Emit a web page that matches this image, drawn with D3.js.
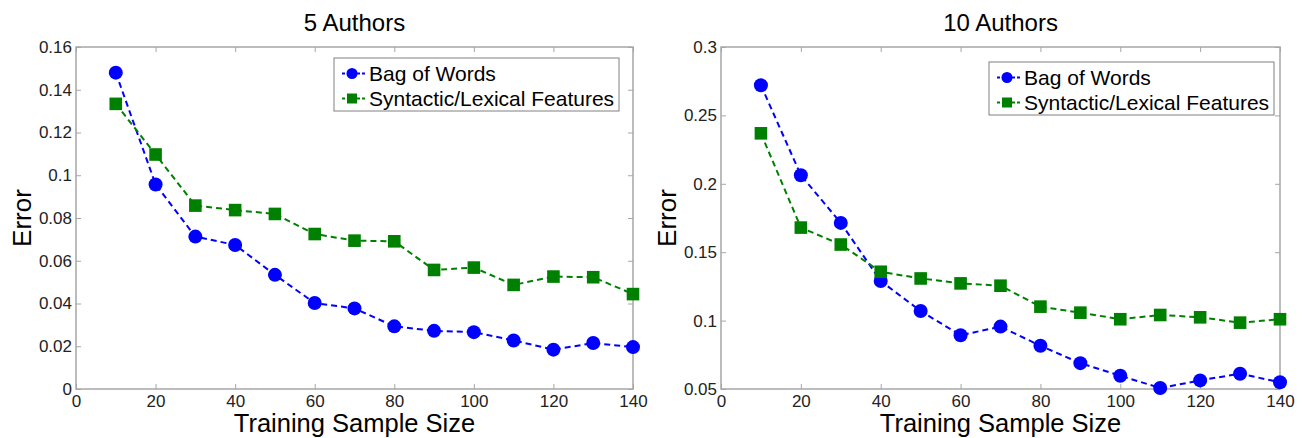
<!DOCTYPE html>
<html>
<head>
  <meta charset="utf-8">
  <script src="https://d3js.org/d3.v7.min.js"></script>
  <style>
    body { margin: 0; background: #fff; }
    svg { display: block; font-family: Arial, "Liberation Sans", sans-serif; }
    .frame { fill: none; stroke: #a6a6a6; stroke-width: 1.5px; }
    .tick line { stroke: #a6a6a6; stroke-width: 1px; }
    .tick text { fill: #222; font-size: 17px; }
    .domain { display: none; }
    .series { fill: none; stroke-width: 2px; stroke-dasharray: 6,4; }
  </style>
</head>
<body>
  <svg id="chart" width="1302" height="438"></svg>
  <script>
    const sizes = [10, 20, 30, 40, 50, 60, 70, 80, 90, 100, 110, 120, 130, 140];
    const seriesNames = ["Bag of Words", "Syntactic/Lexical Features"];

    // 5 authors
    const bow5 = [0.148, 0.0957, 0.0713, 0.0674, 0.0534, 0.0402, 0.0377, 0.0293, 0.0272, 0.0266, 0.0227, 0.0184, 0.0215, 0.0196];
    const syn5 = [0.1334, 0.1097, 0.0858, 0.0837, 0.0819, 0.0725, 0.0694, 0.0691, 0.0557, 0.0568, 0.0487, 0.0526, 0.0523, 0.0444];

    // 10 authors
    const bow10 = [0.272, 0.2063, 0.1714, 0.1289, 0.107, 0.0893, 0.0956, 0.0816, 0.0689, 0.0597, 0.0507, 0.0563, 0.0612, 0.0549];
    const syn10 = [0.2369, 0.168, 0.1556, 0.1357, 0.1308, 0.1272, 0.1255, 0.1102, 0.1058, 0.101, 0.1041, 0.1024, 0.0985, 0.101];

    const xTicks = [0, 20, 40, 60, 80, 100, 120, 140];
    const yTicks5 = [0, 0.02, 0.04, 0.06, 0.08, 0.1, 0.12, 0.14, 0.16];
    const yTicks10 = [0.05, 0.1, 0.15, 0.2, 0.25, 0.3];

    const colors = ["#0000ff", "#008000"];

    const svg = d3.select("#chart");

    const panels = [
      { title: "5 Authors", left: 76, right: 633, yDomain: [0, 0.16], yTicks: yTicks5, data: [bow5, syn5], legend: [334, 58] },
      { title: "10 Authors", left: 721, right: 1280, yDomain: [0.05, 0.3], yTicks: yTicks10, data: [bow10, syn10], legend: [989, 62] }
    ];
    const plotTop = 47, plotBottom = 389;
    const fmt = d => String(+d.toFixed(2));

    panels.forEach(p => {
      const x = d3.scaleLinear().domain([0, 140]).range([p.left, p.right]);
      const y = d3.scaleLinear().domain(p.yDomain).range([plotBottom, plotTop]);
      const g = svg.append("g");

      g.append("g").attr("transform", `translate(0,${plotBottom})`)
        .call(d3.axisBottom(x).tickValues(xTicks).tickSize(-5).tickPadding(6).tickFormat(d3.format("d")));
      g.append("g").attr("transform", `translate(0,${plotTop})`)
        .call(d3.axisTop(x).tickValues(xTicks).tickSize(-5).tickFormat(""));
      g.append("g").attr("transform", `translate(${p.left},0)`)
        .call(d3.axisLeft(y).tickValues(p.yTicks).tickSize(-5).tickPadding(4).tickFormat(fmt));
      g.append("g").attr("transform", `translate(${p.right},0)`)
        .call(d3.axisRight(y).tickValues(p.yTicks).tickSize(-5).tickFormat(""));

      g.append("rect").attr("class", "frame")
        .attr("x", p.left).attr("y", plotTop)
        .attr("width", p.right - p.left).attr("height", plotBottom - plotTop);

      const line = d3.line().x((d, i) => x(sizes[i])).y(d => y(d));

      p.data.forEach((vals, k) => {
        g.append("path").attr("class", "series")
          .attr("stroke", colors[k]).attr("d", line(vals));
        if (k === 0) {
          g.selectAll(null).data(vals).join("circle")
            .attr("cx", (d, i) => x(sizes[i])).attr("cy", d => y(d))
            .attr("r", 7).attr("fill", colors[k]);
        } else {
          g.selectAll(null).data(vals).join("rect")
            .attr("x", (d, i) => x(sizes[i]) - 6.3).attr("y", d => y(d) - 6.3)
            .attr("width", 12.6).attr("height", 12.6).attr("fill", colors[k]);
        }
      });

      const cx = (p.left + p.right) / 2;
      g.append("text").attr("x", cx).attr("y", 31).attr("text-anchor", "middle")
        .attr("font-size", 24).text(p.title);
      g.append("text").attr("x", cx).attr("y", 432).attr("text-anchor", "middle")
        .attr("font-size", 25.5).text("Training Sample Size");
      g.append("text").attr("transform", `translate(${p.left - 45},${(plotTop + plotBottom) / 2}) rotate(-90)`)
        .attr("text-anchor", "middle").attr("font-size", 26).text("Error");

      // legend
      const [lx, ly] = p.legend;
      const lg = g.append("g").attr("transform", `translate(${lx},${ly})`);
      lg.append("rect").attr("width", 285).attr("height", 53)
        .attr("fill", "#fff").attr("stroke", "#808080").attr("stroke-width", 1);
      seriesNames.forEach((name, k) => {
        const ry = 15.5 + k * 25;
        lg.append("line").attr("x1", 8).attr("x2", 33).attr("y1", ry).attr("y2", ry)
          .attr("stroke", colors[k]).attr("stroke-width", 2).attr("stroke-dasharray", "3,2");
        if (k === 0) {
          lg.append("circle").attr("cx", 18).attr("cy", ry).attr("r", 5.5).attr("fill", colors[k]);
        } else {
          lg.append("rect").attr("x", 13).attr("y", ry - 5).attr("width", 10).attr("height", 10).attr("fill", colors[k]);
        }
        lg.append("text").attr("x", 35).attr("y", ry).attr("dy", "0.35em")
          .attr("font-size", 21).text(name);
      });
    });
  </script>
</body>
</html>
